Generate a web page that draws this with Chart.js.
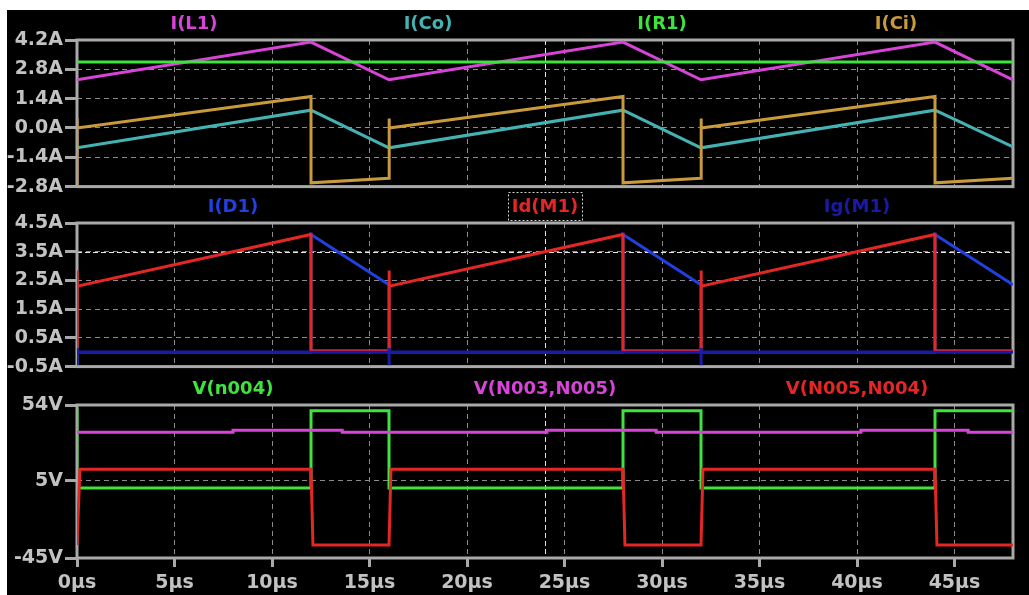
<!DOCTYPE html>
<html>
<head>
<meta charset="utf-8">
<title>Converter waveforms</title>
<script src="https://cdn.jsdelivr.net/npm/chart.js@4.4.1/dist/chart.umd.min.js"></script>
<style>
	html, body { margin: 0; padding: 0; background: #fff; }
	body { width: 1029px; height: 595px; position: relative; overflow: hidden; }
	#screen { position: absolute; left: 7px; top: 10px; right: 0; bottom: 0; background: #000; }
	canvas { position: absolute; left: 0; }
</style>
</head>
<body>
<div id="screen"></div>
<canvas id="pane-currents" width="1029" height="200" style="top:0px"></canvas>
<canvas id="pane-switch" width="1029" height="190" style="top:190px"></canvas>
<canvas id="pane-voltages" width="1029" height="220" style="top:375px"></canvas>
<script>
/*********************
Waveform viewer
*********************/

/*************************
DATA
*************************/

//time axis, in µs
const timeTicks = [0, 5, 10, 15, 20, 25, 30, 35, 40, 45];
const timeMax = 48;
const cursorTime = 24;

//top pane: currents in A
const topTicks = [-2.8, -1.4, 0, 1.4, 2.8, 4.2];
const tL1 = [0, 12, 16, 28, 32, 44, 48];
const iL1 = [2.3, 4.1, 2.3, 4.1, 2.3, 4.1, 2.3];
const tCo = [0, 12, 16, 28, 32, 44, 48];
const iCo = [-0.95, 0.85, -0.95, 0.85, -0.95, 0.85, -0.9];
const tR1 = [0, 48];
const iR1 = [3.15, 3.15];
const tCi = [0, 0, 0.02, 12, 12, 16, 16, 16.02, 28, 28, 32, 32, 32.02, 44, 44, 48];
const iCi = [-2.7, 0.45, 0, 1.5, -2.62, -2.4, 0.45, 0, 1.5, -2.62, -2.4, 0.45, 0, 1.5, -2.62, -2.4];

//middle pane: diode and mosfet currents in A
const midTicks = [-0.5, 0.5, 1.5, 2.5, 3.5, 4.5];
const cursorCurrent = 3.5;
const tD1 = [0, 12, 12, 16, 16, 28, 28, 32, 32, 44, 44, 48];
const iD1 = [0, 0, 4.1, 2.35, 0, 0, 4.1, 2.35, 0, 0, 4.1, 2.35];
const tDrain = [0, 0, 0.02, 12, 12, 16, 16, 16.02, 28, 28, 32, 32, 32.02, 44, 44, 48];
const iDrain = [0.2, 2.85, 2.3, 4.1, 0.05, 0.05, 2.85, 2.3, 4.1, 0.05, 0.05, 2.85, 2.3, 4.1, 0.05, 0.05];
const tGate = [0, 0, 0.02, 16, 16, 16, 16.02, 32, 32, 32, 32.02, 48];
const iGate = [0.15, -0.45, 0, 0, 0.15, -0.45, 0, 0, 0.15, -0.45, 0, 0];

//bottom pane: node voltages in V
const lowTicks = [-45, 5, 54];
const tN004 = [0, 0, 12, 12, 16, 16, 28, 28, 32, 32, 44, 44, 48];
const vN004 = [52, 0.3, 0.3, 50.3, 50.3, 0.3, 0.3, 50.3, 50.3, 0.3, 0.3, 50.3, 50.3];
const tN003 = [0, 8, 8, 13.6, 13.6, 24.1, 24.1, 29.7, 29.7, 40.2, 40.2, 45.7, 45.7, 48];
const vN003 = [36.3, 36.3, 37.6, 37.6, 36.3, 36.3, 37.6, 37.6, 36.3, 36.3, 37.6, 37.6, 36.3, 36.3];
const tN005 = [0, 0.15, 12, 12.1, 16, 16.1, 28, 28.1, 32, 32.1, 44, 44.1, 48];
const vN005 = [-36.6, 12.4, 12.4, -36.6, -36.6, 12.4, 12.4, -36.6, -36.6, 12.4, 12.4, -36.6, -36.6];

/*************************
STYLE
*************************/

const frameColor = '#a9a9a9';
const gridColor = '#8c8c8c';
const cursorColor = '#e6e6e6';
const textColor = '#c2c2c2';
const fontFamily = '"DejaVu Sans", "Liberation Sans", sans-serif';

const magenta = '#d844d8';
const cyan = '#44b2b2';
const green = '#3fe23f';
const gold = '#c99a3c';
const red = '#e32626';
const blue = '#2040e0';
const navy = '#1a1aa8';

/*************************
GENERAL FUNCTIONS
*************************/

//pairs up a time list and a value list
function ToPoints(times, values){
	return times.map((t, i) => ({x: t, y: values[i]}));
}

function MakeTrace(label, times, values, color, selected){
	return {
		label: label,
		data: ToPoints(times, values),
		borderColor: color,
		backgroundColor: color,
		selected: selected === true,
	};
}

//frame, cursor lines and the trace names above each pane
const paneDecorations = {
	id: 'paneDecorations',
	beforeDatasetsDraw(chart, args, opts){
		const {ctx, chartArea: a, scales} = chart;
		ctx.save();
		ctx.strokeStyle = cursorColor;
		ctx.lineWidth = 1;
		ctx.setLineDash([5, 3]);
		const cx = Math.round(scales.x.getPixelForValue(cursorTime)) + 0.5;
		ctx.beginPath();
		ctx.moveTo(cx, a.top);
		ctx.lineTo(cx, a.bottom);
		if(opts.cursorY !== undefined){
			const cy = Math.round(scales.y.getPixelForValue(opts.cursorY)) + 0.5;
			ctx.moveTo(a.left, cy);
			ctx.lineTo(a.right, cy);
		}
		ctx.stroke();
		ctx.setLineDash([]);
		ctx.strokeStyle = frameColor;
		ctx.lineWidth = 3;
		ctx.strokeRect(a.left, a.top, a.right - a.left, a.bottom - a.top);
		ctx.restore();
	},
	afterDraw(chart){
		const {ctx, chartArea: a} = chart;
		const sets = chart.data.datasets;
		const slot = (a.right - a.left) / sets.length;
		ctx.save();
		ctx.font = 'bold 18px ' + fontFamily;
		ctx.textAlign = 'center';
		ctx.textBaseline = 'middle';
		sets.forEach((ds, i) => {
			const x = a.left + slot * (i + 0.5);
			const y = a.top - 16;
			ctx.fillStyle = ds.borderColor;
			ctx.fillText(ds.label, x, y);
			if(ds.selected){
				const w = ctx.measureText(ds.label).width + 8;
				ctx.strokeStyle = '#d0d0d0';
				ctx.lineWidth = 1;
				ctx.setLineDash([2, 2]);
				ctx.strokeRect(Math.round(x - w / 2) + 0.5, y - 14.5, Math.round(w), 28);
				ctx.setLineDash([]);
			}
		});
		ctx.restore();
	}
};

function GenerateGraphOptions(pane){
	const tickFont = {family: fontFamily, size: 19, weight: 'bold'};
	return {
		responsive: false,
		animation: false,
		events: [],
		layout: {padding: {top: pane.padTop, bottom: pane.padBottom, left: 0, right: 16}},
		elements: {
			point: {radius: 0},
			line: {borderWidth: 3, tension: 0, fill: false},
		},
		plugins: {
			legend: {display: false},
			tooltip: {enabled: false},
			paneDecorations: {cursorY: pane.cursorY},
		},
		scales: {
			x: {
				type: 'linear',
				min: 0,
				max: timeMax,
				afterBuildTicks: s => { s.ticks = timeTicks.map(v => ({value: v})); },
				afterFit: s => { s.height = pane.showTime ? 37 : 0; },
				grid: {color: gridColor, lineWidth: 1, drawTicks: pane.showTime, tickLength: 9, tickColor: frameColor, tickWidth: 3, tickBorderDash: []},
				border: {display: false, dash: [5, 4]},
				ticks: {display: pane.showTime, color: textColor, font: tickFont, padding: 5, maxRotation: 0, autoSkip: false, callback: v => v + 'µs'},
			},
			y: {
				min: pane.ticks[0],
				max: pane.ticks[pane.ticks.length - 1],
				afterBuildTicks: s => { s.ticks = pane.ticks.map(v => ({value: v})); },
				afterFit: s => { s.width = 77; },
				grid: {color: gridColor, lineWidth: 1, drawTicks: true, tickLength: 12, tickColor: frameColor, tickWidth: 3, tickBorderDash: []},
				border: {display: false, dash: [5, 4]},
				ticks: {color: textColor, font: tickFont, padding: 2, autoSkip: false, callback: pane.format},
			},
		},
	};
}

//later traces are painted on top, as in the simulator
function CreateGraph(canvasId, datasets, pane){
	datasets.forEach((ds, i) => { ds.order = datasets.length - i; });
	return new Chart(document.getElementById(canvasId), {
		type: 'line',
		data: {datasets: datasets},
		options: GenerateGraphOptions(pane),
		plugins: [paneDecorations],
	});
}

const ampFormat = v => v.toFixed(1) + 'A';
const voltFormat = v => v + 'V';

/*************************
PANES
*************************/

const topGraph = CreateGraph('pane-currents', [
	MakeTrace('I(L1)', tL1, iL1, magenta),
	MakeTrace('I(Co)', tCo, iCo, cyan),
	MakeTrace('I(R1)', tR1, iR1, green),
	MakeTrace('I(Ci)', tCi, iCi, gold),
], {padTop: 40, padBottom: 13, ticks: topTicks, format: ampFormat, showTime: false});

const midGraph = CreateGraph('pane-switch', [
	MakeTrace('I(D1)', tD1, iD1, blue),
	MakeTrace('Id(M1)', tDrain, iDrain, red, true),
	MakeTrace('Ig(M1)', tGate, iGate, navy),
], {padTop: 33, padBottom: 8, ticks: midTicks, format: ampFormat, showTime: false, cursorY: cursorCurrent});

const lowGraph = CreateGraph('pane-voltages', [
	MakeTrace('V(n004)', tN004, vN004, green),
	MakeTrace('V(N003,N005)', tN003, vN003, magenta),
	MakeTrace('V(N005,N004)', tN005, vN005, red),
], {padTop: 30, padBottom: 0, ticks: lowTicks, format: voltFormat, showTime: true});
</script>
</body>
</html>
